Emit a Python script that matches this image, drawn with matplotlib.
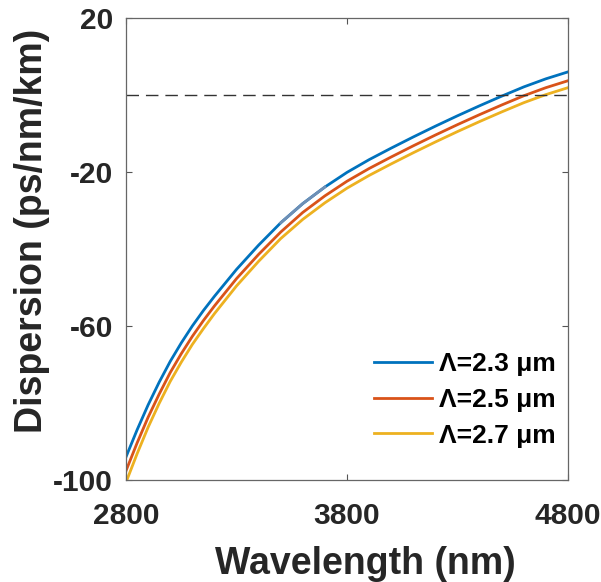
import numpy as np
import matplotlib
matplotlib.use("Agg")
import matplotlib.pyplot as plt

plt.rcParams['font.family'] = ['Liberation Sans', 'DejaVu Sans']
plt.rcParams['font.weight'] = 'bold'
plt.rcParams['axes.unicode_minus'] = False

# ---------------------- DATA ----------------------
wavelength = [2800, 2850, 2900, 2950, 3000, 3050, 3100, 3150, 3200, 3300, 3400, 3500,
              3600, 3700, 3800, 3900, 4000, 4100, 4200, 4300, 4400, 4500, 4600, 4700, 4800]

disp_23 = [-94.0, -87.0, -80.5, -74.6, -69.2, -64.4, -60.0, -56.0, -52.3, -45.3, -39.0, -33.2,
           -28.2, -23.9, -20.1, -16.8, -13.8, -10.9, -8.1, -5.4, -2.8, -0.3, 2.1, 4.2, 6.0]
disp_25 = [-97.6, -90.4, -83.7, -77.7, -72.1, -67.2, -62.7, -58.6, -54.8, -47.7, -41.4, -35.6,
           -30.5, -26.2, -22.4, -19.1, -16.1, -13.2, -10.4, -7.7, -5.1, -2.6, -0.2, 1.9, 3.7]
disp_27 = [-100.6, -93.2, -86.3, -80.1, -74.4, -69.4, -64.8, -60.7, -56.8, -49.6, -43.2, -37.3,
           -32.3, -28.0, -24.2, -20.9, -17.9, -15.0, -12.2, -9.5, -6.9, -4.4, -2.0, 0.1, 1.9]

labels = ["Λ=2.3 μm", "Λ=2.5 μm", "Λ=2.7 μm"]
colors = ["#0072BD", "#D95319", "#EDB120"]

xticks = [2800, 3800, 4800]
yticks = [-100, -60, -20, 20]

# ---------------------- PLOT ----------------------
fig = plt.figure(figsize=(6.01, 5.82), dpi=100)
ax = fig.add_axes([0.2097, 0.1753, 0.7354, 0.7938])

for y, lab, c in zip([disp_23, disp_25, disp_27], labels, colors):
    ax.plot(wavelength, y, color=c, lw=2.0, label=lab)

# faded stretch on the blue curve (as in the source image)
wl = np.array(wavelength)
seg = (wl >= 3500) & (wl <= 3700)
ax.plot(wl[seg], np.array(disp_23)[seg], color="#6f8fb5", lw=2.0)

ax.axhline(0, color="#333333", lw=1.0, ls=(0, (9, 5)))

ax.set_xlim(2800, 4800)
ax.set_ylim(-100, 20)
ax.set_xticks(xticks)
ax.set_yticks(yticks)
ax.tick_params(direction='in', length=4, width=0.8, top=True, right=True,
               labelsize=21.5, colors="#555555", labelcolor="#262626")
ax.tick_params(axis='x', pad=16)
ax.tick_params(axis='y', pad=9.5)
for s in ax.spines.values():
    s.set_color("#666666")
    s.set_linewidth(0.9)

ax.set_xlabel("Wavelength (nm)", fontsize=27, fontweight='bold', color="#262626")
ax.set_ylabel("Dispersion (ps/nm/km)", fontsize=27, fontweight='bold', color="#262626")
ax.xaxis.set_label_coords(0.541, -0.142)
ax.yaxis.set_label_coords(-0.172, 0.539)

ax.legend(loc='lower right', bbox_to_anchor=(1.0136, 0.03), frameon=False, fontsize=19,
          handlelength=2.2, handletextpad=0.25, labelspacing=0.45, borderaxespad=0.3)

fig.savefig("out.png", dpi=100)
